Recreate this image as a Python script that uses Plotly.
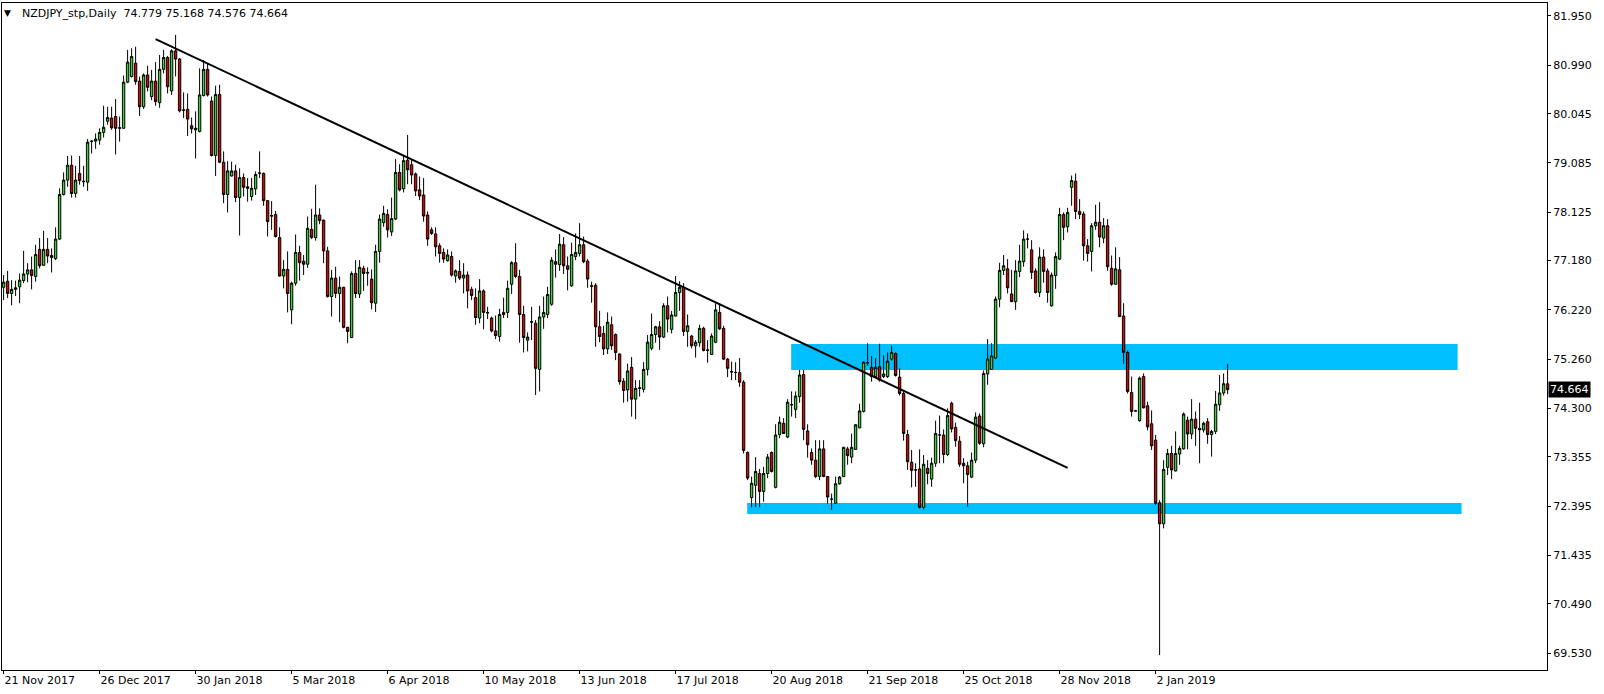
import plotly.graph_objects as go

# ---------------- data ----------------
opens = [76.66,76.78,76.54,76.62,76.67,76.79,76.92,77.00,76.87,77.40,77.09,77.40,77.28,77.22,77.60,78.47,78.75,79.04,78.49,78.88,
78.73,78.71,79.50,79.51,79.53,79.68,79.90,79.96,79.99,79.76,79.76,80.66,80.77,81.03,80.68,80.18,80.80,80.38,80.68,80.26,
80.91,81.14,80.49,81.27,81.11,80.12,80.13,79.81,79.76,79.70,80.40,80.91,80.29,79.23,80.42,79.10,78.47,78.83,78.93,78.41,
78.80,78.62,78.43,78.58,78.88,78.88,78.35,78.06,78.08,77.63,76.88,77.01,76.22,76.74,77.34,77.17,77.11,77.79,77.63,78.07,
77.97,77.37,76.48,76.84,76.54,76.66,75.88,75.68,76.93,76.53,77.03,76.95,76.82,76.35,77.36,77.92,78.08,77.74,77.99,78.90,
78.58,79.14,79.05,78.87,78.56,78.46,78.07,77.78,77.70,77.47,77.34,77.18,77.26,76.88,76.97,76.84,76.90,76.62,76.46,76.06,
76.59,76.17,76.06,75.81,75.70,76.13,76.17,76.72,77.14,76.87,76.13,75.63,75.98,75.96,75.06,76.08,76.13,76.33,77.16,77.10,
77.49,77.08,76.69,77.26,77.32,77.49,77.17,76.69,76.70,75.89,75.76,75.46,75.93,75.74,75.36,74.83,74.66,75.10,74.48,74.69,
74.67,75.06,75.47,75.74,75.89,75.69,76.30,75.84,76.10,76.56,76.66,75.80,75.71,75.52,75.58,75.86,75.44,75.35,75.59,76.17,
75.86,75.26,75.02,75.00,75.00,74.81,73.44,72.56,72.80,73.03,72.68,73.03,73.44,72.76,73.79,74.01,73.74,74.37,74.28,74.53,
74.96,73.86,73.44,73.29,72.97,73.51,72.97,72.53,72.45,72.83,72.97,73.51,73.35,73.50,73.92,74.24,75.19,75.10,74.92,75.11,
74.92,74.92,75.26,75.37,74.91,74.59,73.79,73.25,73.10,73.12,72.37,73.13,72.92,73.23,73.78,73.78,73.40,74.40,73.93,73.66,
73.23,73.18,72.96,73.29,74.15,73.61,74.97,75.06,75.28,76.43,76.99,77.02,76.53,76.38,76.97,77.16,77.60,77.39,76.98,76.56,
77.25,76.98,76.30,76.89,77.21,78.08,77.84,78.61,78.73,78.14,78.09,77.47,77.36,77.86,77.93,77.62,77.86,77.03,76.72,77.00,
76.10,75.39,74.61,74.25,74.06,74.92,74.35,74.00,73.68,72.46,72.05,73.15,73.42,73.08,73.41,73.51,74.07,73.80,74.09,73.91,
73.88,74.04,73.79,73.85,74.37,74.60,74.779]
highs = [76.90,76.98,76.80,76.79,76.93,77.37,77.13,77.26,77.49,77.62,77.76,77.62,77.42,77.83,78.59,78.90,79.22,79.23,79.03,79.22,
79.03,79.55,79.53,79.66,79.76,80.20,80.18,80.18,80.33,79.99,80.79,81.29,81.32,81.35,80.77,80.83,80.98,80.90,81.05,81.19,
81.29,81.17,81.30,81.58,81.13,80.46,80.44,79.97,80.09,80.93,81.09,81.03,80.38,80.59,80.61,79.31,79.12,79.11,79.05,78.98,
78.88,78.79,78.79,78.92,79.31,78.90,78.36,78.34,78.15,77.83,77.19,77.36,76.77,77.69,77.47,77.29,78.04,78.19,78.66,78.20,
77.98,77.45,77.00,77.06,76.87,76.67,75.89,76.97,77.19,77.19,77.08,77.05,77.01,77.49,78.08,78.25,78.18,78.41,79.16,79.06,
79.24,79.63,79.16,78.90,78.82,78.79,78.14,77.83,77.83,77.52,77.42,77.40,77.36,77.01,77.19,77.13,76.97,76.67,76.64,76.82,
76.62,76.28,76.09,76.11,76.24,76.46,76.79,77.17,77.52,77.00,76.30,75.78,76.28,76.02,76.30,76.48,76.67,77.25,77.40,77.70,
77.64,77.26,77.53,77.71,77.91,77.65,77.21,76.77,76.74,76.20,75.91,76.17,76.09,75.76,75.37,74.89,75.17,75.30,74.85,74.85,
75.20,75.73,76.15,75.91,76.00,76.35,76.48,76.20,76.88,76.78,76.74,76.13,75.73,75.63,75.93,75.89,75.63,75.76,76.35,76.34,
75.91,75.28,75.21,75.20,75.28,74.85,73.46,72.97,73.35,73.12,73.16,73.41,73.46,73.99,74.14,74.11,74.48,74.63,74.63,75.05,
75.05,73.99,73.52,73.68,73.68,73.68,72.98,72.64,72.97,72.98,73.55,73.55,73.81,73.99,74.39,75.22,75.57,75.32,75.28,75.56,
75.34,75.39,75.52,75.39,75.08,74.66,73.88,73.49,73.23,73.50,73.39,73.29,73.34,74.06,74.16,73.89,74.30,74.43,74.02,73.76,
73.33,73.26,73.44,74.22,74.20,75.04,75.65,75.57,76.48,77.14,77.29,77.21,77.00,77.19,77.49,77.77,77.71,77.58,77.03,77.44,
77.40,77.03,76.95,77.34,78.21,78.12,78.21,78.84,78.88,78.38,78.14,77.60,77.91,78.27,78.32,78.01,77.99,77.28,77.44,77.25,
76.35,75.43,74.92,74.27,74.92,74.98,74.43,74.26,73.78,72.51,73.29,73.51,73.57,73.85,73.57,74.22,74.14,74.48,74.24,74.41,
74.04,74.11,73.88,74.64,74.95,74.98,75.168]
lows = [76.41,76.45,76.31,76.49,76.35,76.74,76.76,76.62,76.77,77.03,77.08,77.13,76.95,77.19,77.58,78.45,78.62,78.41,78.41,78.66,
78.62,78.54,79.27,79.36,79.44,79.58,79.83,79.73,79.25,79.50,79.75,80.64,80.75,80.61,80.00,80.14,80.48,80.31,80.20,80.16,
80.83,80.44,80.41,80.77,80.07,79.96,79.61,79.66,79.17,79.68,80.38,80.38,79.21,78.83,79.08,78.30,78.12,78.82,78.32,77.67,
78.43,78.33,78.35,78.46,78.79,78.25,77.65,77.78,77.63,76.87,76.64,76.17,75.94,76.69,76.79,76.90,77.04,77.60,77.57,77.89,
77.13,76.46,76.09,76.45,75.98,75.86,75.57,75.67,76.45,76.45,76.59,76.69,76.23,76.18,77.14,77.84,77.63,77.66,77.97,78.53,
78.51,78.67,78.67,78.44,78.36,77.94,77.47,77.68,77.26,77.14,77.14,77.16,76.87,76.75,76.80,76.54,76.25,76.41,75.93,75.96,
75.84,76.04,75.78,75.65,75.60,76.06,76.06,76.53,76.84,75.58,75.39,75.41,75.63,74.56,74.63,75.85,76.06,76.30,76.85,76.98,
76.92,76.60,76.67,77.19,77.26,77.13,76.65,76.36,75.50,75.59,75.34,75.36,75.44,75.24,74.76,74.41,74.43,74.14,74.09,74.53,
74.61,74.94,75.43,75.58,75.44,75.67,75.78,75.76,76.09,76.20,75.71,75.50,75.47,75.29,75.50,75.41,75.19,75.34,75.57,75.83,
75.24,74.91,74.85,74.85,74.72,73.42,72.90,72.37,72.38,72.37,72.48,72.94,73.05,72.74,73.72,73.80,73.72,74.14,74.11,74.41,
73.68,73.34,73.20,72.94,72.90,72.96,72.44,72.32,72.44,72.81,72.96,73.20,73.23,73.49,73.91,74.22,75.13,74.82,74.89,74.82,
74.89,74.89,75.23,74.92,74.55,73.67,73.10,72.76,72.77,72.35,72.33,72.82,72.77,73.16,73.23,73.23,73.37,73.83,73.55,73.16,
72.84,72.38,72.94,73.23,73.59,73.54,74.76,75.05,75.26,76.27,76.90,76.54,76.38,76.22,76.86,77.06,77.42,76.82,76.54,76.47,
76.75,76.36,76.28,76.63,77.19,77.58,77.73,78.25,77.99,77.99,77.18,77.16,76.97,77.78,77.44,77.52,76.98,76.69,76.71,76.08,
75.17,74.59,74.14,74.24,74.04,74.30,73.87,73.49,72.42,69.49,71.96,73.00,72.92,73.07,73.20,73.50,73.50,73.70,73.57,73.23,
73.83,73.61,73.36,73.80,74.25,74.55,74.576]
closes = [76.76,76.54,76.62,76.65,76.80,76.92,77.00,76.89,77.30,77.08,77.40,77.27,77.24,77.60,78.47,78.75,79.04,78.49,78.75,78.74,
78.72,79.49,79.51,79.55,79.68,79.78,79.97,79.77,79.76,79.77,80.66,81.05,81.16,80.67,80.18,80.80,80.56,80.68,80.28,80.91,
81.14,80.57,81.27,81.11,80.10,80.11,79.94,79.75,79.73,80.41,80.91,80.41,79.23,80.42,79.10,78.47,78.93,78.93,78.41,78.80,
78.61,78.59,78.59,78.86,78.89,78.35,77.94,78.05,77.65,76.88,77.01,76.54,76.74,77.34,77.14,77.11,77.81,77.63,78.07,77.96,
77.37,76.48,76.84,76.54,76.66,75.88,75.80,76.93,76.54,77.05,76.93,76.94,76.36,77.36,77.99,78.10,77.78,78.00,78.90,78.56,
79.13,78.95,78.85,78.54,78.44,78.05,77.60,77.71,77.45,77.32,77.21,77.29,76.90,76.98,76.84,76.90,76.59,76.50,76.07,76.59,
76.17,76.16,75.81,75.72,76.13,76.17,76.64,77.14,76.87,76.13,75.68,75.69,75.99,75.08,76.08,76.17,76.52,77.19,77.11,77.50,
77.08,77.01,77.30,77.34,77.49,77.16,76.82,76.68,75.89,75.70,75.46,75.98,75.52,75.39,74.82,74.65,75.03,74.48,74.69,74.70,
75.06,75.59,75.74,75.89,75.69,76.30,76.04,76.12,76.56,76.66,75.80,75.91,75.52,75.59,75.86,75.43,75.43,75.71,76.22,75.85,
75.26,75.08,75.01,75.00,74.81,73.48,72.94,72.84,73.07,72.68,73.03,73.35,73.07,73.78,74.03,73.81,74.42,74.37,74.54,74.95,
73.89,73.59,73.29,72.97,73.51,72.97,72.57,72.53,72.83,72.96,73.54,73.38,73.54,73.98,74.25,75.20,75.19,74.92,75.10,74.85,
74.97,75.22,75.39,74.94,74.59,73.81,73.26,73.09,73.10,72.37,73.21,73.03,73.23,73.81,73.78,73.40,74.16,73.90,73.67,73.21,
73.18,73.01,73.29,74.13,73.62,74.98,75.26,75.32,76.43,76.99,77.08,76.65,76.38,76.98,77.17,77.60,77.60,76.95,76.56,77.25,
76.97,76.56,76.90,77.26,78.08,77.83,78.12,78.74,78.14,78.08,77.47,77.32,77.86,77.93,77.64,77.86,77.06,76.72,77.02,76.09,
75.39,74.63,74.24,74.25,74.89,74.31,73.94,73.57,72.45,72.05,73.11,73.42,73.10,73.42,73.52,74.19,73.80,74.09,73.91,73.88,
74.01,73.79,73.85,74.38,74.60,74.78,74.664]

tick_pos = [0, 24, 48, 72, 96, 120, 144, 168, 192, 216, 240, 264, 288]
tick_labels = ["21 Nov 2017", "26 Dec 2017", "30 Jan 2018", "5 Mar 2018", "6 Apr 2018", "10 May 2018",
               "13 Jun 2018", "17 Jul 2018", "20 Aug 2018", "21 Sep 2018", "25 Oct 2018", "28 Nov 2018", "2 Jan 2019"]
price_ticks = [81.950, 80.990, 80.045, 79.085, 78.125, 77.180, 76.220, 75.260, 74.300, 73.355, 72.395, 71.435, 70.490, 69.530]

trend_x = [38.0, 266.0]
trend_y = [81.50, 73.14]

zone_upper = dict(x0=196.9, x1=363.5, y0=75.05, y1=75.555)
zone_lower = dict(x0=185.9, x1=364.5, y0=72.24, y1=72.455)

symbol_text = "NZDJPY_stp,Daily\u00a0\u00a074.779 75.168 74.576 74.664"
last_price = 74.664

BULL = "#22E022"
BEAR = "#E00000"
ZONE = "#00BFFF"
FONT = "DejaVu Sans"

idx = list(range(len(closes)))

fig = go.Figure()
fig.add_trace(go.Candlestick(
    x=idx, open=opens, high=highs, low=lows, close=closes,
    increasing=dict(fillcolor=BULL, line=dict(color="black", width=1)),
    decreasing=dict(fillcolor=BEAR, line=dict(color="black", width=1)),
    whiskerwidth=0, hoverinfo="skip", showlegend=False,
))
fig.add_trace(go.Scatter(x=trend_x, y=trend_y, mode="lines",
                         line=dict(color="black", width=2), hoverinfo="skip", showlegend=False))

for z in (zone_upper, zone_lower):
    fig.add_shape(type="rect", xref="x", yref="y", x0=z["x0"], x1=z["x1"], y0=z["y0"], y1=z["y1"],
                  fillcolor=ZONE, line=dict(width=0), layer="below")

fig.add_annotation(x=0, y=1, xref="paper", yref="paper", xanchor="left", yanchor="top",
                   text="\u25BC", showarrow=False, xshift=0, yshift=-3,
                   font=dict(family=FONT, size=9, color="black"))
fig.add_annotation(x=0, y=1, xref="paper", yref="paper", xanchor="left", yanchor="top",
                   text=symbol_text, showarrow=False, xshift=18, yshift=-2,
                   font=dict(family=FONT, size=11, color="black"))
fig.add_annotation(x=1, y=last_price, xref="paper", yref="y", xanchor="left", yanchor="middle",
                   text=f"{last_price:.3f}", showarrow=False, xshift=1, bgcolor="black", borderpad=1,
                   font=dict(family=FONT, size=11, color="white"))

fig.update_layout(
    width=1604, height=694,
    margin=dict(l=2, r=57, t=3, b=24),
    paper_bgcolor="white", plot_bgcolor="white",
    showlegend=False,
    boxgap=0.15,
    xaxis=dict(range=[-0.4, 385.85], rangeslider=dict(visible=False), showgrid=False, zeroline=False,
               tickmode="array", tickvals=tick_pos, ticktext=tick_labels, ticks="outside", ticklen=3,
               tickcolor="black", ticklabelposition="outside right",
               showline=True, linecolor="black", linewidth=1, mirror=True,
               tickfont=dict(family=FONT, size=11, color="black")),
    yaxis=dict(range=[69.199, 82.203], side="right", showgrid=False, zeroline=False,
               tickmode="array", tickvals=price_ticks, ticktext=[f"{v:.3f}" for v in price_ticks],
               ticks="outside", ticklen=3, tickcolor="black",
               showline=True, linecolor="black", linewidth=1, mirror=True,
               tickfont=dict(family=FONT, size=11, color="black")),
)

fig.write_html("out.html", config={"displayModeBar": False},
               post_script="document.body.style.margin='0px';document.body.style.overflow='hidden';")
